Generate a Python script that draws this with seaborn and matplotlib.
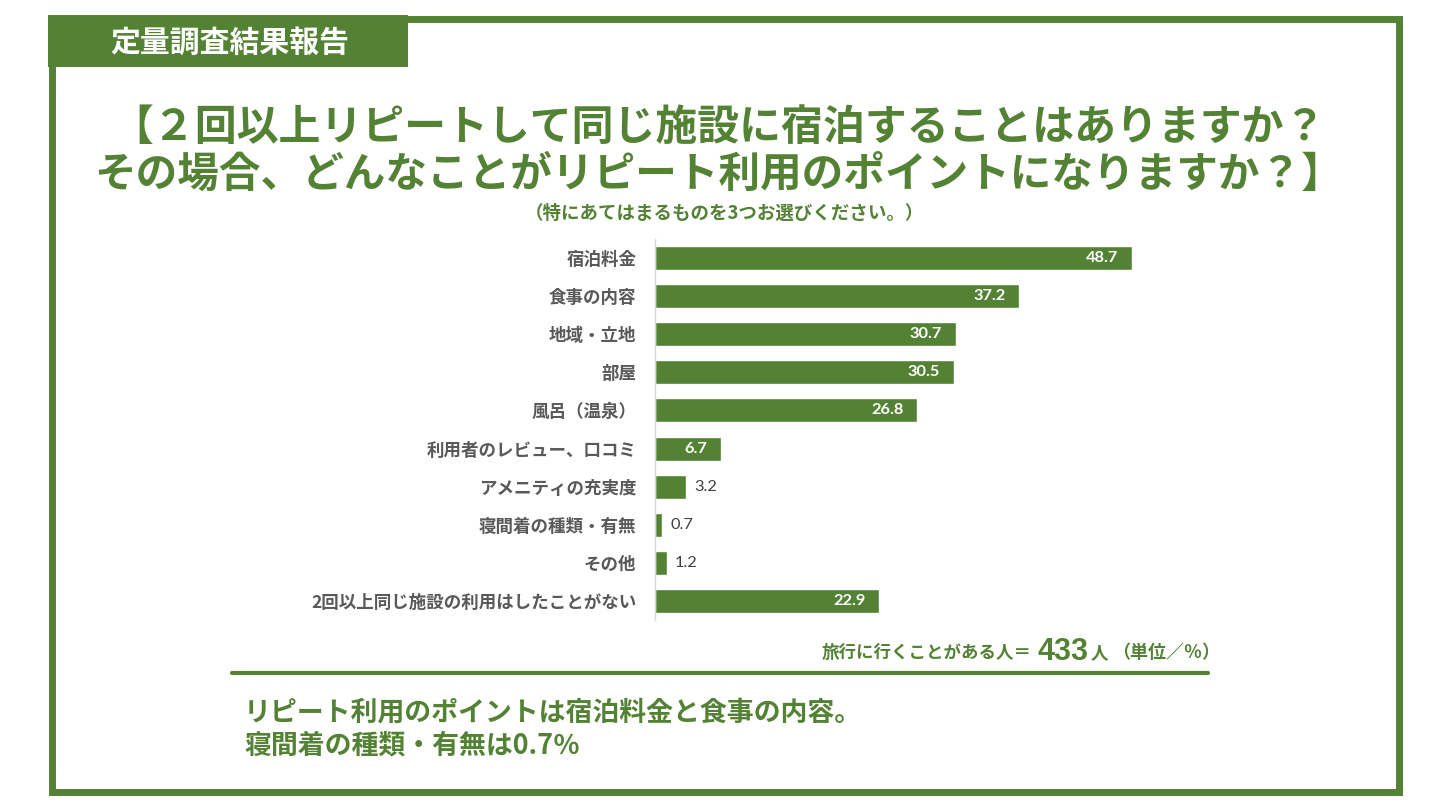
import matplotlib
matplotlib.use("Agg")
import matplotlib.pyplot as plt
from matplotlib.patches import Rectangle
from matplotlib.lines import Line2D
import seaborn as sns
import pandas as pd

# ---- data ----
categories = ["宿泊料金", "食事の内容", "地域・立地", "部屋", "風呂（温泉）",
              "利用者のレビュー、口コミ", "アメニティの充実度", "寝間着の種類・有無",
              "その他", "2回以上同じ施設の利用はしたことがない"]
values = [48.7, 37.2, 30.7, 30.5, 26.8, 6.7, 3.2, 0.7, 1.2, 22.9]

header_text = "定量調査結果報告"
title_lines = ["【２回以上リピートして同じ施設に宿泊することはありますか？",
               "その場合、どんなことがリピート利用のポイントになりますか？】"]
subtitle = "（特にあてはまるものを3つお選びください。）"
summary_lines = ["リピート利用のポイントは宿泊料金と食事の内容。",
                 "寝間着の種類・有無は0.7％"]
sample_n = "433"

GREEN = "#548235"
W, H = 1440, 810

sns.set_style("white")
plt.rcParams["font.family"] = ["Noto Sans CJK JP", "DejaVu Sans"]

fig = plt.figure(figsize=(14.4, 8.1), dpi=100)
fig.patch.set_facecolor("white")


def fx(x):
    return x / W


def fy(y):
    return 1 - y / H


# frame
fig.patches.append(Rectangle((fx(51.5), fy(792)), fx(1398.5 - 51.5), (792 - 18.5) / H,
                             transform=fig.transFigure, fill=False, edgecolor=GREEN,
                             linewidth=5.0, zorder=0))
fig.patches.append(Rectangle((fx(48), fy(67)), fx(408 - 48), (67 - 15) / H,
                             transform=fig.transFigure, facecolor=GREEN, edgecolor="none",
                             zorder=1))
fig.text(fx(230), fy(43), header_text, color="white", fontsize=21.5, fontweight="bold",
         ha="center", va="center")

# title
fig.text(fx(719), fy(128), title_lines[0], color=GREEN, fontsize=30.2, fontweight="bold",
         ha="center", va="center")
fig.text(fx(719), fy(175), title_lines[1], color=GREEN, fontsize=30.0, fontweight="bold",
         ha="center", va="center")
fig.text(fx(724), fy(213), subtitle, color=GREEN, fontsize=13.3, fontweight="bold",
         ha="center", va="center")

# chart
ax_left, ax_right, ax_top, ax_bot = 655, 1245, 239, 620
ax = fig.add_axes([fx(ax_left), fy(ax_bot), fx(ax_right - ax_left), (ax_bot - ax_top) / H])
df = pd.DataFrame({"cat": categories, "val": values})
sns.barplot(data=df, y="cat", x="val", orient="h", color=GREEN, width=0.63,
            saturation=1, ax=ax)
scale = (1132 - 655) / 48.7
ax.set_xlim(0, (ax_right - ax_left) / scale)
ax.set_ylim(len(categories) - 0.5, -0.5)
ax.set_xlabel("")
ax.set_ylabel("")
ax.set_xticks([])
for s in ["top", "right", "bottom"]:
    ax.spines[s].set_visible(False)
ax.spines["left"].set_color("#d9d9d9")
ax.spines["left"].set_linewidth(1.0)
ax.set_yticks(range(len(categories)))
ax.set_yticklabels(categories, fontsize=12.6, fontweight="bold", color="#595959")
ax.set_yticks([i - 0.5 for i in range(len(categories) + 1)], minor=True)
ax.tick_params(axis="y", which="major", length=0, pad=13.5)
ax.tick_params(axis="y", which="minor", length=5, color="#d9d9d9", width=1)

for i, v in enumerate(values):
    if v >= 5:
        ax.annotate(f"{v:.1f}", (v, i), xytext=(-10, 0), textcoords="offset points",
                    ha="right", va="center", color="white", fontsize=11.8,
                    fontweight="bold", family=["Lato", "DejaVu Sans"])
    else:
        ax.annotate(f"{v:.1f}", (v, i), xytext=(6, 0), textcoords="offset points",
                    ha="left", va="center", color="#404040", fontsize=11.8,
                    family=["Lato", "DejaVu Sans"])

# footnote
fig.text(fx(822), fy(658), "旅行に行くことがある人＝", color=GREEN, fontsize=12.6,
         fontweight="bold", ha="left", va="baseline")
fig.text(fx(1037), fy(660), sample_n, color=GREEN, fontsize=22, fontweight="bold",
         ha="left", va="baseline",
         family=["Liberation Sans Narrow", "Liberation Sans", "DejaVu Sans"])
fig.text(fx(1091), fy(658), "人", color=GREEN, fontsize=12.6, fontweight="bold",
         ha="left", va="baseline")
fig.text(fx(1112), fy(658), "（単位／％）", color=GREEN, fontsize=13, fontweight="bold",
         ha="left", va="baseline")
fig.lines.append(Line2D([fx(232), fx(1208)], [fy(673), fy(673)], transform=fig.transFigure,
                        color=GREEN, linewidth=3.0))

# summary
fig.text(fx(244), fy(713), summary_lines[0], color=GREEN, fontsize=19.4, fontweight="bold",
         ha="left", va="center")
fig.text(fx(244), fy(745), summary_lines[1], color=GREEN, fontsize=19.4, fontweight="bold",
         ha="left", va="center")

fig.savefig("out.png", dpi=100, facecolor="white")
